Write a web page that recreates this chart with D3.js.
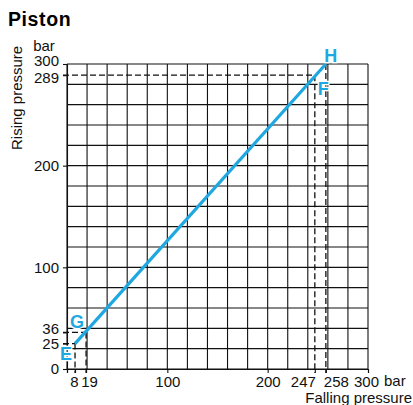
<!DOCTYPE html>
<html>
<head>
<meta charset="utf-8">
<script src="https://cdn.jsdelivr.net/npm/d3@7"></script>
<style>
  html, body { margin: 0; padding: 0; background: #fff; }
  svg { display: block; font-family: "Liberation Sans", Arial, Helvetica, sans-serif; }
</style>
</head>
<body>
<svg id="chart" width="413" height="405"></svg>
<script>
// Operating points of the piston switch (falling pressure, rising pressure), in bar
const pointNames = ["E", "G", "F", "H"];
const fallingPressure = [8, 19, 247, 258];
const risingPressure = [25, 36, 289, 300];

// Characteristic line runs from E to H
const lineFrom = 0;
const lineTo = 3;

// Axis ticks
const xTicks = [0, 8, 19, 100, 200, 247, 258, 300];
const xTickLabels = ["", "8", "19", "100", "200", "247", "258", "300"];
const yTicks = [0, 25, 36, 100, 200, 289, 300];
const yTickLabels = ["0", "25", "36", "100", "200", "289", "300"];
const gridStep = 20;
const axisMax = 300;

const blue = "#1ea7e1";
const svg = d3.select("#chart");

const x = d3.scaleLinear().domain([0, axisMax]).range([67, 368]);
const y = d3.scaleLinear().domain([0, axisMax]).range([369, 64]);

// Title
svg.append("text").attr("x", 8).attr("y", 26)
  .attr("font-size", 19.5).attr("font-weight", "bold")
  .attr("letter-spacing", 0.6).text("Piston");

// Grid
const gridVals = d3.range(0, axisMax + 1, gridStep);
const grid = svg.append("g").attr("stroke", "#111").attr("stroke-width", 1.1);
grid.selectAll("line.v").data(gridVals).join("line")
  .attr("x1", d => x(d)).attr("x2", d => x(d))
  .attr("y1", y(0)).attr("y2", y(axisMax));
grid.selectAll("line.h").data(gridVals).join("line")
  .attr("y1", d => y(d)).attr("y2", d => y(d))
  .attr("x1", x(0)).attr("x2", x(axisMax));

// Axes
const xAxis = d3.axisBottom(x).tickValues(xTicks).tickSize(4).tickPadding(3)
  .tickFormat((d, i) => xTickLabels[i]);
const yAxis = d3.axisLeft(y).tickValues(yTicks).tickSize(4).tickPadding(4)
  .tickFormat((d, i) => yTickLabels[i]);

const gx = svg.append("g").attr("transform", `translate(0,${y(0)})`).call(xAxis);
const gy = svg.append("g").attr("transform", `translate(${x(0)},0)`).call(yAxis);
[gx, gy].forEach(g => {
  g.select(".domain").attr("stroke", "#111").attr("stroke-width", 1.1);
  g.selectAll(".tick line").attr("stroke", "#111").attr("stroke-width", 1.1);
  g.selectAll(".tick text").attr("fill", "#111").attr("font-size", 15)
    .attr("font-family", "Liberation Sans, Arial, sans-serif");
});
gx.selectAll(".tick text").attr("dy", "0.71em");

// Nudge crowded tick labels apart
const xNudge = { 8: -1, 19: 3, 247: -12, 258: 10, 300: -2 };
gx.selectAll(".tick text").attr("dx", d => xNudge[d] || 0);
const yNudge = { 36: -4, 25: 0.5, 300: -3.5, 289: 2.5 };
gy.selectAll(".tick text").attr("y", d => yNudge[d] || 0);

// Unit labels and axis titles
svg.append("text").attr("x", 44).attr("y", 51).attr("font-size", 15)
  .attr("text-anchor", "middle").attr("fill", "#111").text("bar");
svg.append("text").attr("x", 384).attr("y", 386).attr("font-size", 15)
  .attr("fill", "#111").text("bar");
svg.append("text").attr("x", 412).attr("y", 403).attr("font-size", 15)
  .attr("text-anchor", "end").attr("fill", "#111").text("Falling pressure");
svg.append("text").attr("transform", "translate(22,150) rotate(-90)")
  .attr("font-size", 15).attr("fill", "#111").text("Rising pressure");

// Dashed guide lines for each operating point
const guides = svg.append("g").attr("stroke", "#111").attr("stroke-width", 1.3)
  .attr("stroke-dasharray", "6,3").attr("fill", "none");
pointNames.forEach((n, i) => {
  const px = x(fallingPressure[i]);
  const py = y(risingPressure[i]);
  guides.append("line").attr("x1", px).attr("x2", px)
    .attr("y1", py).attr("y2", y(0) + 4);
  if (risingPressure[i] < axisMax) {
    guides.append("line").attr("x1", x(0) - 4).attr("x2", px)
      .attr("y1", py).attr("y2", py);
  }
});

// Characteristic line
svg.append("line")
  .attr("x1", x(fallingPressure[lineFrom])).attr("y1", y(risingPressure[lineFrom]))
  .attr("x2", x(fallingPressure[lineTo])).attr("y2", y(risingPressure[lineTo]))
  .attr("stroke", blue).attr("stroke-width", 3.2).attr("stroke-linecap", "butt");

// Point letters, with a white halo so they sit cleanly over the grid
const labelOffset = { E: [-9, 16.5], G: [-9, -4.5], F: [8.5, 20], H: [5, -2.5] };
pointNames.forEach((n, i) => {
  const [dx, dy] = labelOffset[n];
  svg.append("text")
    .attr("x", x(fallingPressure[i]) + dx).attr("y", y(risingPressure[i]) + dy)
    .attr("font-size", 18).attr("font-weight", "bold").attr("fill", blue)
    .attr("stroke", "#fff").attr("stroke-width", 2.5).attr("paint-order", "stroke")
    .attr("text-anchor", "middle").text(n);
});
</script>
</body>
</html>
